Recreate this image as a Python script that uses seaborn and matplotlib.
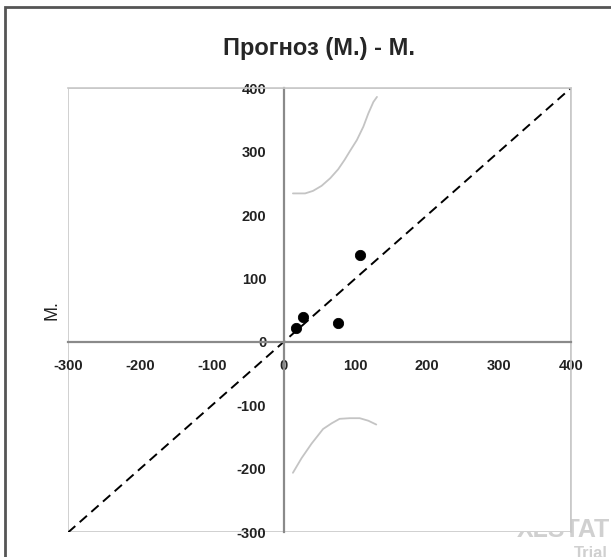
import numpy as np
import pandas as pd
import matplotlib
matplotlib.use("Agg")
import matplotlib.pyplot as plt
import matplotlib.patches as mpatches
import seaborn as sns

# observed vs predicted points
pred_x = [18, 27, 76, 107]
obs_y = [22, 40, 30, 137]

# upper and lower confidence curves
upper_x = [13, 30, 41, 53, 65, 76, 85, 92, 102, 111, 118, 125, 130]
upper_y = [234, 234, 238, 246, 258, 272, 287, 300, 318, 339, 360, 378, 386]
lower_x = [13, 25, 39, 55, 67, 78, 92, 106, 118, 129]
lower_y = [-206, -183, -160, -137, -128, -121, -120, -120, -124, -130]

# diagonal reference line
diag = [-300, 400]

ticks = [-300, -200, -100, 0, 100, 200, 300, 400]

sns.set_style("white")
plt.rcParams['font.family'] = ['Liberation Sans', 'DejaVu Sans']

fig = plt.figure(figsize=(6.11, 5.57), dpi=100)
ax = fig.add_axes([0.1113, 0.044, 0.8232, 0.798])

# watermark behind the plot area (clipped by the right edge like the original)
fig.text(0.846, 0.036, "XLSTAT", fontsize=18, fontweight='bold', color='#d0d0d0',
         zorder=-5)
fig.text(0.94, -0.002, "Trial", fontsize=12, fontweight='bold', color='#d0d0d0',
         zorder=-5)

# figure frame
fig.patches.append(mpatches.Rectangle((0.009, -0.1), 1.2, 1.087, transform=fig.transFigure,
                                      fill=False, edgecolor='#555555', linewidth=2))

sns.lineplot(x=upper_x, y=upper_y, ax=ax, color='#c4c4c4', linewidth=1.3, sort=False)
sns.lineplot(x=lower_x, y=lower_y, ax=ax, color='#c4c4c4', linewidth=1.3, sort=False)
sns.lineplot(x=diag, y=diag, ax=ax, color='black', linewidth=1.4, linestyle=(0, (5, 3)))
sns.scatterplot(x=pred_x, y=obs_y, ax=ax, color='black', s=55, edgecolor='black', zorder=5)

ax.set_xlim(-300, 400)
ax.set_ylim(-300, 400)
ax.set_xticks(ticks)
ax.set_yticks(ticks)
ax.set_xticklabels([str(t) for t in ticks])
ax.set_yticklabels([str(t) for t in ticks])

# axes crossing at zero
ax.spines['left'].set_position(('data', 0))
ax.spines['bottom'].set_position(('data', 0))
for s in ['left', 'bottom']:
    ax.spines[s].set_color('#8a8a8a')
    ax.spines[s].set_linewidth(1.6)
for s in ['top', 'right']:
    ax.spines[s].set_color('#c8c8c8')
    ax.spines[s].set_linewidth(1.2)
ax.add_patch(mpatches.Rectangle((0, 0), 1, 1, transform=ax.transAxes, fill=False,
                                edgecolor='#c8c8c8', linewidth=1.2, zorder=0))

ax.tick_params(axis='both', direction='inout', length=9, width=1.4, color='#8a8a8a',
               labelsize=10.5, labelcolor='#222222')
ax.tick_params(axis='x', pad=8)
ax.tick_params(axis='y', pad=8)
for lbl in ax.get_xticklabels() + ax.get_yticklabels():
    lbl.set_fontweight('bold')

ax.set_ylabel("М.", fontsize=13, color='#222222')
ax.yaxis.set_label_coords(-0.015, 0.5)
ax.set_title("Прогноз (М.) - М.", fontsize=17, fontweight='bold', pad=24)

fig.savefig("out.png", dpi=100)
